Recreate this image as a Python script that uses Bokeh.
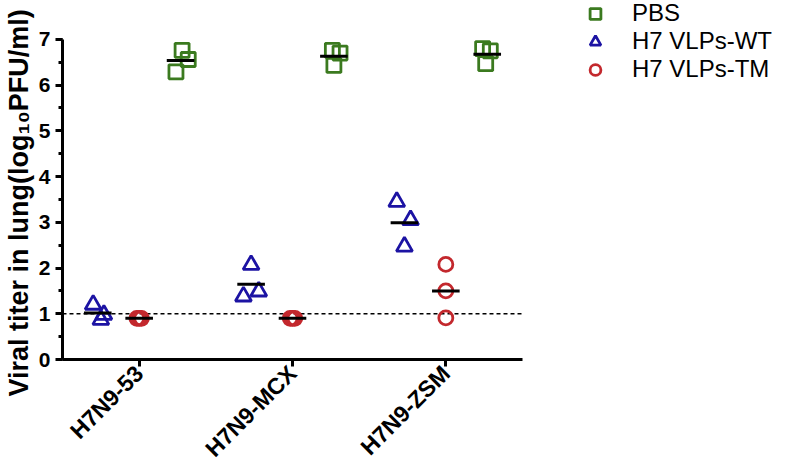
import numpy as np
from math import pi
from bokeh.plotting import figure
from bokeh.models import (FixedTicker, SingleIntervalTicker, Legend, Title,
                          LegendItem, ColumnDataSource, Range1d)
from bokeh.embed import file_html
from bokeh.resources import INLINE

# ---- data ----
categories = ["H7N9-53", "H7N9-MCX", "H7N9-ZSM"]
group_pos = [1, 2, 3]
series_names = ["PBS", "H7 VLPs-WT", "H7 VLPs-TM"]
series_offset = {"PBS": 0.27, "H7 VLPs-WT": -0.27, "H7 VLPs-TM": 0.0}

pbs_vals = [[6.76, 6.56, 6.29], [6.76, 6.70, 6.43], [6.80, 6.75, 6.47]]
wt_vals = [[1.20, 0.98, 0.87], [2.07, 1.38, 1.49], [3.45, 3.05, 2.47]]
tm_vals = [[0.90, 0.90, 0.90], [0.90, 0.90, 0.90], [2.08, 1.50, 0.91]]

pbs_jit = [[0.01, 0.05, -0.03], [-0.01, 0.04, 0.0], [-0.03, 0.02, -0.01]]
wt_jit = [[-0.03, 0.04, 0.02], [0.0, -0.05, 0.05], [-0.05, 0.04, 0.0]]
tm_jit = [[-0.015, 0.0, 0.015], [-0.015, 0.0, 0.015], [0.0, 0.0, 0.0]]

detection_limit = 1.0
x_axis_bounds = (0.5, 3.5)
y_axis_bounds = (0, 7)
y_title = "Viral titer in lung(log\u2081\u2080PFU/ml)"

colors = {"PBS": "#3B7A1F", "H7 VLPs-WT": "#1C13A3", "H7 VLPs-TM": "#C3282D"}
markers = {"PBS": "square", "H7 VLPs-WT": "triangle", "H7 VLPs-TM": "circle"}
msize = {"PBS": 14, "H7 VLPs-WT": 16, "H7 VLPs-TM": 14}

FONT = "Liberation Sans"

# frame spans to the right and top edges so the legend fits inside it;
# the axes themselves are limited to their bounds
W, H = 785, 474
left, bottom = 62, 114
px_per_x = 460 / 3.0
px_per_y = 321 / 7.0
x_end = x_axis_bounds[0] + (W - left) / px_per_x
y_end = y_axis_bounds[1] + 39 / px_per_y

p = figure(width=W, height=H, output_backend="svg", toolbar_location=None,
           x_range=Range1d(x_axis_bounds[0], x_end), y_range=Range1d(y_axis_bounds[0], y_end),
           min_border_left=left, min_border_right=0, min_border_top=0,
           min_border_bottom=bottom)
p.outline_line_color = None
p.xgrid.visible = False
p.ygrid.visible = False
p.background_fill_color = "white"
p.border_fill_color = "white"

# detection limit line
p.segment(x0=[x_axis_bounds[0]], y0=[detection_limit], x1=[x_axis_bounds[1]],
          y1=[detection_limit], line_color="black", line_width=1.5, line_dash="4 3")

all_vals = {"PBS": (pbs_vals, pbs_jit), "H7 VLPs-WT": (wt_vals, wt_jit),
            "H7 VLPs-TM": (tm_vals, tm_jit)}
renderers = {}
for name in series_names:
    vals, jit = all_vals[name]
    xs, ys = [], []
    for g, gp in enumerate(group_pos):
        for v, j in zip(vals[g], jit[g]):
            xs.append(gp + series_offset[name] + j)
            ys.append(v)
    src = ColumnDataSource(dict(x=xs, y=ys))
    r = p.scatter("x", "y", source=src, marker=markers[name], size=msize[name],
                  fill_color=None, line_color=colors[name], line_width=2.8)
    renderers[name] = r

# mean lines
mx0, mx1, my = [], [], []
for name in series_names:
    vals, _ = all_vals[name]
    for g, gp in enumerate(group_pos):
        m = float(np.mean(vals[g]))
        c = gp + series_offset[name]
        mx0.append(c - 0.09)
        mx1.append(c + 0.09)
        my.append(m)
p.segment(x0=mx0, y0=my, x1=mx1, y1=my, line_color="black", line_width=3)

# axes
p.xaxis.ticker = FixedTicker(ticks=group_pos)
p.xaxis.major_label_overrides = {gp: c for gp, c in zip(group_pos, categories)}
p.xaxis.major_label_orientation = pi / 4
p.xaxis.minor_tick_line_color = None
p.xaxis.bounds = x_axis_bounds
p.yaxis.ticker = SingleIntervalTicker(interval=1, num_minor_ticks=2)
p.yaxis.bounds = y_axis_bounds
for ax in (p.xaxis[0], p.yaxis[0]):
    ax.axis_line_width = 3
    ax.axis_line_color = "black"
    ax.major_tick_line_width = 3
    ax.major_tick_line_color = "black"
    ax.minor_tick_line_width = 3
    ax.major_tick_in = 0
    ax.major_tick_out = 7
    ax.minor_tick_in = 0
    ax.minor_tick_out = 4
    ax.major_label_text_font = FONT
    ax.major_label_text_font_style = "bold"
    ax.major_label_text_color = "black"
p.yaxis.major_label_text_font_size = "21px"
p.yaxis.major_label_standoff = 5
p.xaxis.major_label_text_font_size = "23px"
p.xaxis.major_label_standoff = 3

# y-axis title as a side title so it can be placed along the axis extent
p.add_layout(Title(text=y_title, align="left", offset=-37, standoff=0,
                   vertical_align="top",
                   text_font=FONT, text_font_style="bold", text_font_size="27px",
                   text_color="black"), "left")

legend = Legend(items=[LegendItem(label=n, renderers=[renderers[n]]) for n in series_names],
                location=(518, 276), orientation="vertical",
                label_text_font=FONT, label_text_font_size="24px",
                label_text_color="black", glyph_width=30, glyph_height=27,
                label_height=20, spacing=0, label_standoff=22, padding=0, margin=0,
                border_line_color=None, background_fill_alpha=0)
p.add_layout(legend, "center")

open("out.html", "w").write(file_html(p, INLINE))
